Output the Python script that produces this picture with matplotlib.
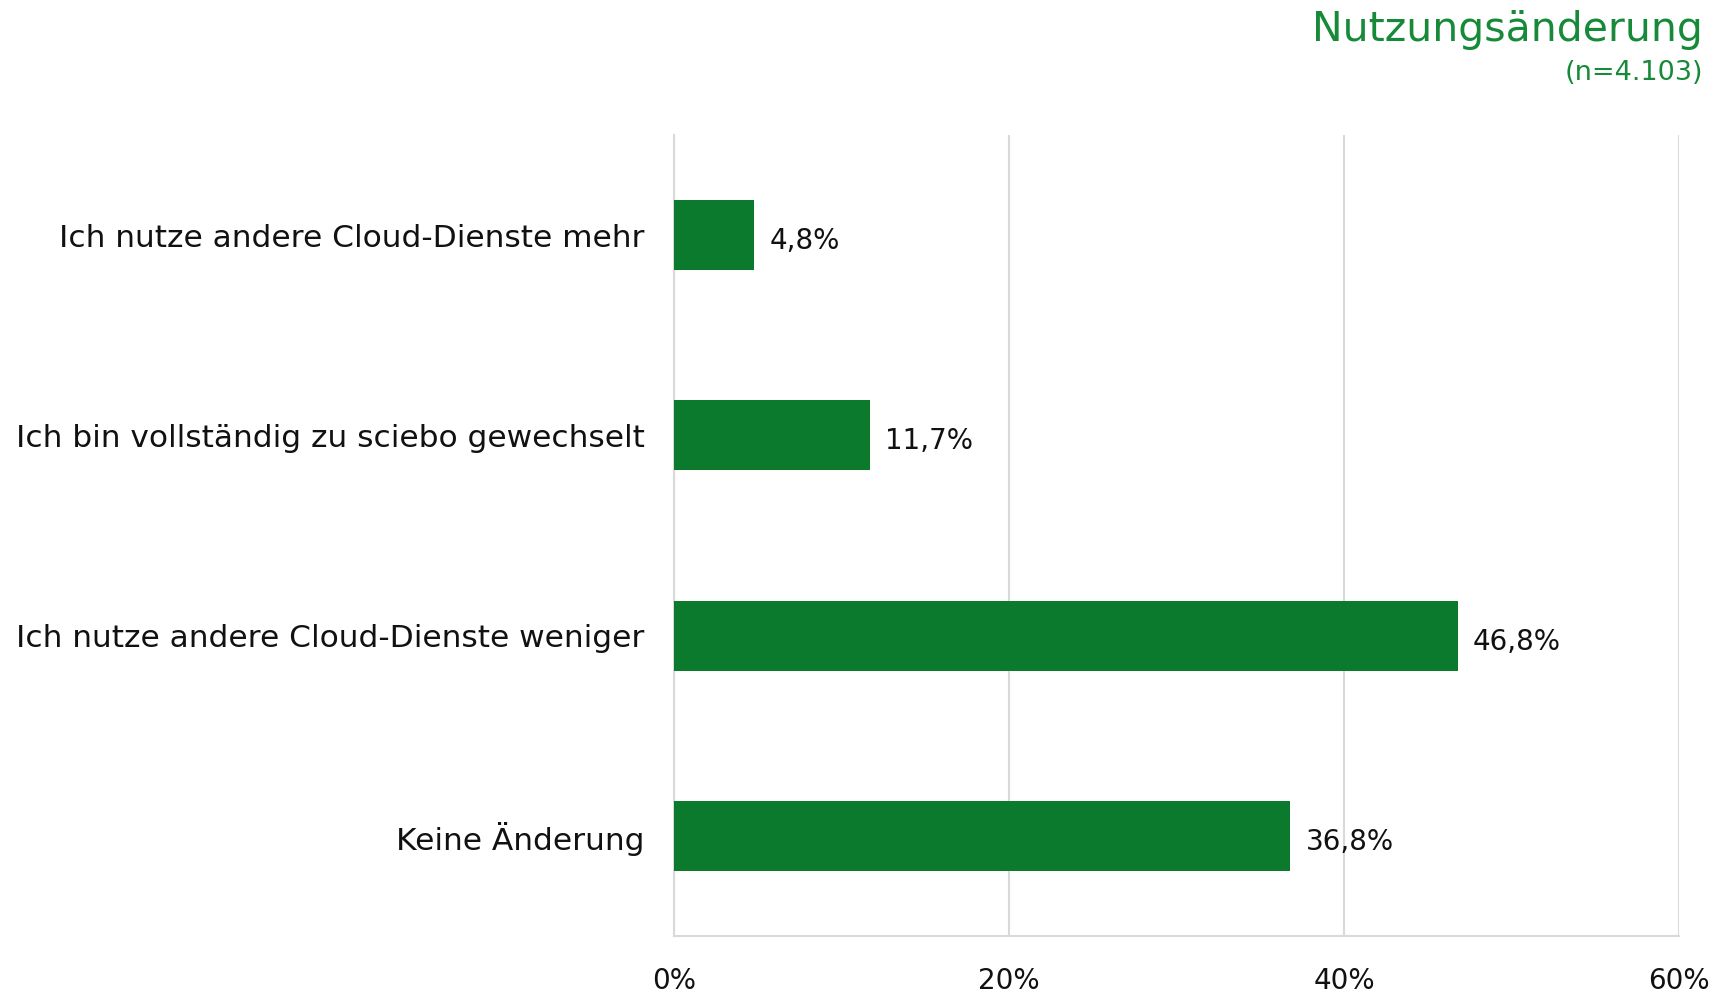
import matplotlib
matplotlib.use("Agg")
import matplotlib.pyplot as plt

categories = [
    "Ich nutze andere Cloud-Dienste mehr",
    "Ich bin vollständig zu sciebo gewechselt",
    "Ich nutze andere Cloud-Dienste weniger",
    "Keine Änderung",
]
values = [4.8, 11.7, 46.8, 36.8]
ticks = [0, 20, 40, 60]

title = "Nutzungsänderung"
subtitle = "(n=4.103)"

bar_color = "#0B7A2C"
title_color = "#168A38"
grid_color = "#D9D9D9"

plt.rcParams["font.family"] = ["DejaVu Sans"]

fig = plt.figure(figsize=(17.14, 9.93), dpi=100)
ax = fig.add_axes([0.3932, 0.0574, 0.5864, 0.8066])

y = list(range(len(categories)))
ax.barh(y, values, height=0.35, color=bar_color, zorder=3)
ax.set_ylim(len(categories) - 0.5, -0.5)
ax.set_xlim(0, 60)

for yi, v in zip(y, values):
    ax.text(v + 0.9, yi + 0.03, f"{v:.1f}%".replace(".", ","),
            va="center", ha="left", fontsize=20, color="#111111")

ax.set_yticks(y)
ax.set_yticklabels(categories, fontsize=22.5, color="#111111")
ax.tick_params(axis="y", length=0, pad=21)

ax.set_xticks(ticks)
ax.set_xticklabels([f"{t}%" for t in ticks], fontsize=20, color="#111111")
ax.tick_params(axis="x", length=0, pad=22)

ax.grid(True, axis="x", color=grid_color, linewidth=1.5, zorder=0)
for side in ["top", "right"]:
    ax.spines[side].set_visible(False)
for side in ["left", "bottom"]:
    ax.spines[side].set_color(grid_color)
    ax.spines[side].set_linewidth(1.5)

fig.text(0.9935, 0.970, title, ha="right", va="center", fontsize=29.5, color=title_color)
fig.text(0.9935, 0.926, subtitle, ha="right", va="center", fontsize=19.5, color=title_color)

fig.savefig("out.png", dpi=100)
